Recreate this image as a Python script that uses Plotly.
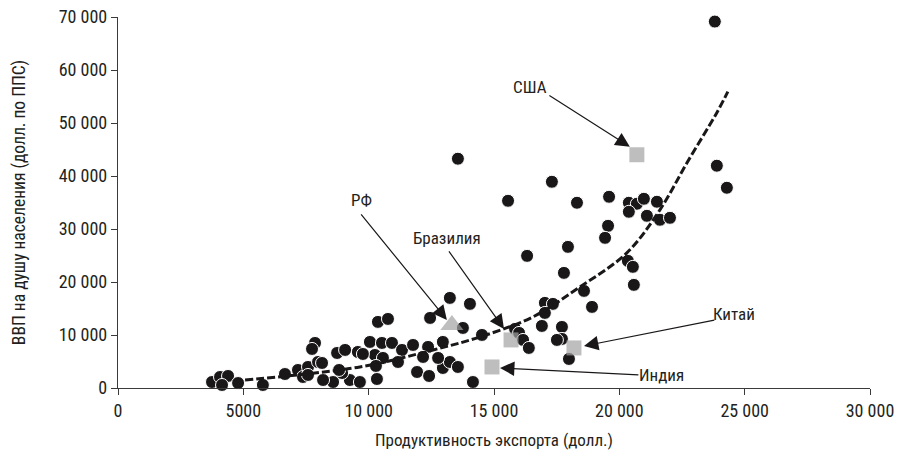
import plotly.graph_objects as go

# ---- data ----
export_productivity = [
    3750, 4070, 4390, 4150, 4790, 5780, 6660, 7180, 7580, 7980,
    7380, 7860, 7740, 8740, 9060, 9570, 10050, 10530, 10930, 11330,
    10370, 10770, 11770, 12370, 12960, 12450, 13760, 14520, 11930, 12410,
    12960, 13240, 13560, 14160, 10330, 11170, 10250, 9770, 9250, 9650,
    8580, 8180, 8940, 8140, 7580, 12170, 12770, 13240, 14040, 15840,
    16000, 16160, 16390, 17030, 17350, 17030, 16910, 17710, 17710, 17510,
    18910, 18590, 17990, 16320, 17950, 17790, 19550, 19430, 20340, 20540,
    20580, 18310, 19590, 20380, 20700, 20980, 21500, 20380, 21100, 21620,
    22020, 15560, 17310, 13560, 23810, 23890, 24290, 10570, 10290, 8820,
]
gdp_per_capita = [
    1130, 2080, 2270, 570, 940, 570, 2640, 3400, 3970, 4910,
    2080, 8500, 7370, 6610, 7180, 6800, 8690, 8500, 8500, 7180,
    12470, 13030, 8120, 7750, 8690, 13220, 11330, 10010, 3020, 2270,
    3780, 4910, 3970, 1130, 1700, 4910, 6230, 6420, 1510, 1130,
    1130, 1510, 2830, 4720, 2460, 5860, 5670, 17000, 15870, 11150,
    10390, 9070, 7560, 16060, 15870, 14170, 11710, 11520, 9260, 9070,
    15300, 18320, 5480, 24930, 26630, 21720, 30600, 28330, 23990, 22860,
    19460, 34950, 36080, 34950, 34760, 35700, 35140, 33250, 32490, 31740,
    32110, 35320, 38910, 43260, 69140, 41940, 37780, 5670, 4160, 3400,
]

# highlighted countries
hl_names = ["США", "РФ", "Бразилия", "Китай", "Индия"]
hl_x = [20700, 13320, 15680, 18190, 14920]
hl_y = [44010, 11900, 9070, 7560, 3970]

# trend line
trend_x = [5070, 9650, 12570, 14440, 16550, 18430, 20300, 21620, 22700, 23890, 24330]
trend_y = [1510, 3970, 7180, 9630, 13410, 19080, 25500, 33620, 42500, 51950, 55910]

# annotation geometry: label position, arrow tail, arrow tip (data units)
label_x = [16430, 9730, 13120, 24570, 21700]
label_y = [56860, 35510, 28330, 13980, 2460]
tail_x = [17150, 9650, 13160, 23850, 20820]
tail_y = [55350, 33060, 26070, 12850, 2460]
tip_x = [20420, 13120, 15400, 18590, 15240]
tip_y = [45520, 12850, 11150, 7930, 3780]

x_tickvals = [0, 5000, 10000, 15000, 20000, 25000, 30000]
x_ticktext = ["0", "5000", "10 000", "15 000", "20 000", "25 000", "30 000"]
y_tickvals = [0, 10000, 20000, 30000, 40000, 50000, 60000, 70000]
y_ticktext = ["0", "10 000", "20 000", "30 000", "40 000", "50 000", "60 000", "70 000"]

FONT = "Roboto Condensed, DejaVu Sans Condensed, sans-serif"
TXT = "#231f20"
GRAY = "#a3a3a3"

fig = go.Figure()

fig.add_trace(go.Scatter(
    x=export_productivity, y=gdp_per_capita, mode="markers",
    marker=dict(size=13, color="#1a1718", line=dict(color="white", width=1)),
    cliponaxis=False, showlegend=False, hoverinfo="skip",
))

fig.add_trace(go.Scatter(
    x=trend_x, y=trend_y, mode="lines", line_shape="spline",
    line=dict(color="#1a1718", width=3, dash="8px,3px"),
    showlegend=False, hoverinfo="skip",
))

fig.add_trace(go.Scatter(
    x=hl_x, y=hl_y, mode="markers", text=hl_names,
    marker=dict(size=[15, 20, 15, 15, 15], color=GRAY,
                symbol=["square", "triangle-up", "square", "square", "square"],
                line=dict(width=0)),
    cliponaxis=False, showlegend=False, hoverinfo="skip",
))

for i, name in enumerate(hl_names):
    fig.add_annotation(
        x=tip_x[i], y=tip_y[i], ax=tail_x[i], ay=tail_y[i],
        xref="x", yref="y", axref="x", ayref="y",
        text="", showarrow=True, arrowhead=2, arrowsize=2.4,
        arrowwidth=1.2, arrowcolor="#1a1718", standoff=0, startstandoff=0,
    )
    fig.add_annotation(
        x=label_x[i], y=label_y[i], xref="x", yref="y",
        text=name, showarrow=False,
        font=dict(family=FONT, size=17, color=TXT),
    )

axis_common = dict(
    showgrid=False, zeroline=False, showline=True, linecolor="#3a3a3a",
    linewidth=1.3, ticks="outside", ticklen=6, tickwidth=1.3,
    tickcolor="#3a3a3a", tickfont=dict(family=FONT, size=18, color=TXT),
    tickmode="array", automargin=False,
)

fig.update_layout(
    width=900, height=455,
    margin=dict(l=118, r=30, t=17, b=67),
    paper_bgcolor="white", plot_bgcolor="white",
    hovermode=False,
    xaxis=dict(range=[0, 30000], tickvals=x_tickvals, ticktext=x_ticktext,
               title=dict(text="Продуктивность экспорта (долл.)",
                          font=dict(family=FONT, size=17, color=TXT), standoff=14),
               **axis_common),
    yaxis=dict(range=[0, 70000], tickvals=y_tickvals, ticktext=y_ticktext,
               title=dict(text="ВВП на душу населения (долл. по ППС)",
                          font=dict(family=FONT, size=17.5, color=TXT), standoff=28),
               **axis_common),
)

fig.write_html("out.html", config={"displayModeBar": False},
               post_script="document.body.style.margin='0';document.body.style.overflow='hidden';")
